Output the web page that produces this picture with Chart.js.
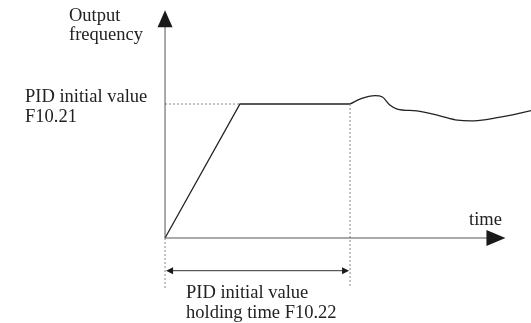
<!DOCTYPE html>
<html>
<head>
<meta charset="utf-8">
<script src="https://cdn.jsdelivr.net/npm/chart.js@4"></script>
<style>
  html, body { margin: 0; padding: 0; background: #fff; }
  canvas { display: block; }
</style>
</head>
<body>
<canvas id="c" width="531" height="323"></canvas>
<script>
// Time in arbitrary units; frequency in percent of the PID initial value scale.
const holdTime = 10;          // F10.22 holding time
const initialValue = 50;      // F10.21 PID initial value
const rampTime = [0, 4.05, holdTime];
const rampFreq = [0, initialValue, initialValue];
const pidTime = [10, 10.6, 11.35, 11.75, 12.15, 12.55, 13.6, 14.85, 15.8, 16.5, 17.95, 19.9];
const pidFreq = [50, 52, 53.1, 52.6, 49.6, 48.1, 47.4, 45.6, 44.0, 43.7, 44.9, 47.7];
const axisTimeEnd = 18.4;     // tip of the time arrow
const axisFreqEnd = 85;       // tip of the frequency arrow
const guideBottom = -18.7;
const spanLevel = -12.2;

const pts = (xs, ys) => xs.map((x, i) => ({ x, y: ys[i] }));

const lineInk = '#222';
const axisInk = '#555';
const guideInk = '#888';

const serif = '"Liberation Serif", "Times New Roman", serif';

const annotations = {
  id: 'annotations',
  afterDatasetsDraw(chart) {
    const { ctx, scales: { x, y } } = chart;
    ctx.save();
    ctx.fillStyle = '#1a1a1a';

    // y axis arrowhead
    const ox = x.getPixelForValue(0);
    const ty = y.getPixelForValue(axisFreqEnd);
    ctx.beginPath();
    ctx.moveTo(ox, ty);
    ctx.lineTo(ox - 7.5, ty + 17);
    ctx.lineTo(ox + 7.5, ty + 17);
    ctx.closePath();
    ctx.fill();

    // x axis arrowhead
    const oy = y.getPixelForValue(0);
    const tx = x.getPixelForValue(axisTimeEnd);
    ctx.beginPath();
    ctx.moveTo(tx, oy);
    ctx.lineTo(tx - 19, oy - 8);
    ctx.lineTo(tx - 19, oy + 8);
    ctx.closePath();
    ctx.fill();

    // double-headed span arrow
    const sy = y.getPixelForValue(spanLevel);
    const sx0 = x.getPixelForValue(0);
    const sx1 = x.getPixelForValue(holdTime);
    ctx.beginPath();
    ctx.moveTo(sx0 + 1, sy);
    ctx.lineTo(sx0 + 8, sy - 3.5);
    ctx.lineTo(sx0 + 8, sy + 3.5);
    ctx.closePath();
    ctx.fill();
    ctx.beginPath();
    ctx.moveTo(sx1 - 1, sy);
    ctx.lineTo(sx1 - 8, sy - 3.5);
    ctx.lineTo(sx1 - 8, sy + 3.5);
    ctx.closePath();
    ctx.fill();

    // labels
    ctx.fillStyle = '#222';
    ctx.font = '18.5px ' + serif;
    ctx.textAlign = 'left';
    ctx.textBaseline = 'alphabetic';
    ctx.fillText('Output', 69, 21);
    ctx.fillText('frequency', 69, 40);
    ctx.fillText('PID initial value', 25, 102);
    ctx.fillText('F10.21', 25, 122);
    ctx.fillText('time', 469, 225);
    ctx.fillText('PID initial value', 186, 298);
    ctx.fillText('holding time F10.22', 186, 318);
    ctx.restore();
  }
};

new Chart(document.getElementById('c'), {
  type: 'line',
  data: {
    datasets: [
      { data: pts([0, axisTimeEnd - 1], [0, 0]), borderColor: axisInk, borderWidth: 1 },
      { data: pts([0, 0], [0, axisFreqEnd - 6]), borderColor: axisInk, borderWidth: 1 },
      { data: pts([0, rampTime[1]], [initialValue, initialValue]), borderColor: guideInk, borderWidth: 1, borderDash: [2, 2] },
      { data: pts([holdTime, holdTime], [initialValue, guideBottom]), borderColor: guideInk, borderWidth: 1, borderDash: [2, 2] },
      { data: pts([0, 0], [0, guideBottom]), borderColor: guideInk, borderWidth: 1, borderDash: [2, 2] },
      { data: pts([0.4, holdTime - 0.4], [spanLevel, spanLevel]), borderColor: '#333', borderWidth: 1 },
      { data: pts(rampTime, rampFreq), borderColor: lineInk, borderWidth: 1.3, tension: 0 },
      { data: pts(pidTime, pidFreq), borderColor: lineInk, borderWidth: 1.3, cubicInterpolationMode: 'monotone' }
    ]
  },
  options: {
    responsive: false,
    animation: false,
    layout: { padding: 0 },
    elements: { point: { radius: 0 }, line: { fill: false } },
    plugins: { legend: { display: false }, tooltip: { enabled: false } },
    scales: {
      x: { type: 'linear', min: -8.92, max: 19.78, display: false },
      y: { type: 'linear', min: -31.72, max: 88.81, display: false }
    }
  },
  plugins: [annotations]
});
</script>
</body>
</html>
